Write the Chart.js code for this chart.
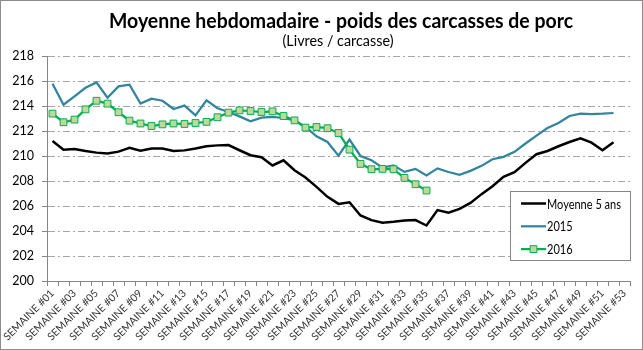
<!DOCTYPE html>
<html>
<head>
<meta charset="utf-8">
<script src="https://cdn.jsdelivr.net/npm/chart.js@4.4.0/dist/chart.umd.min.js"></script>
<style>
  html, body { margin: 0; padding: 0; background: #fff; }
  #wrap { position: relative; width: 643px; height: 350px; }
</style>
</head>
<body>
<div id="wrap"><canvas id="poidsChart"></canvas></div>
<script>
'use strict';

const chartTitle = 'Moyenne hebdomadaire - poids des carcasses de porc';
const chartSubtitle = '(Livres / carcasse)';

const semaines = [
  'SEMAINE #01', 'SEMAINE #02', 'SEMAINE #03', 'SEMAINE #04', 'SEMAINE #05', 'SEMAINE #06',
  'SEMAINE #07', 'SEMAINE #08', 'SEMAINE #09', 'SEMAINE #10', 'SEMAINE #11', 'SEMAINE #12',
  'SEMAINE #13', 'SEMAINE #14', 'SEMAINE #15', 'SEMAINE #16', 'SEMAINE #17', 'SEMAINE #18',
  'SEMAINE #19', 'SEMAINE #20', 'SEMAINE #21', 'SEMAINE #22', 'SEMAINE #23', 'SEMAINE #24',
  'SEMAINE #25', 'SEMAINE #26', 'SEMAINE #27', 'SEMAINE #28', 'SEMAINE #29', 'SEMAINE #30',
  'SEMAINE #31', 'SEMAINE #32', 'SEMAINE #33', 'SEMAINE #34', 'SEMAINE #35', 'SEMAINE #36',
  'SEMAINE #37', 'SEMAINE #38', 'SEMAINE #39', 'SEMAINE #40', 'SEMAINE #41', 'SEMAINE #42',
  'SEMAINE #43', 'SEMAINE #44', 'SEMAINE #45', 'SEMAINE #46', 'SEMAINE #47', 'SEMAINE #48',
  'SEMAINE #49', 'SEMAINE #50', 'SEMAINE #51', 'SEMAINE #52', 'SEMAINE #53'
];

const moyenne5Ans = [
  211.2, 210.5, 210.55, 210.4, 210.27, 210.2, 210.35, 210.65, 210.43, 210.6,
  210.6, 210.4, 210.45, 210.6, 210.78, 210.85, 210.88, 210.46, 210.06, 209.9,
  209.24, 209.66, 208.86, 208.28, 207.53, 206.73, 206.17, 206.3, 205.24, 204.87,
  204.66, 204.74, 204.84, 204.87, 204.44, 205.67, 205.46, 205.77, 206.25, 206.95,
  207.58, 208.33, 208.7, 209.45, 210.14, 210.4, 210.78, 211.12, 211.42, 211.07,
  210.46, 211.1
];

const poids2015 = [
  215.78, 214.1, 214.77, 215.46, 215.89, 214.66, 215.57, 215.7, 214.19, 214.59,
  214.42, 213.76, 214.03, 213.25, 214.45, 213.82, 213.52, 213.17, 212.77, 213.07,
  213.12, 213.04, 212.85, 212.32, 211.58, 211.12, 210.03, 211.31, 210.0, 209.66,
  209.07, 209.24, 208.73, 208.97, 208.45, 209.01, 208.72, 208.49, 208.81, 209.21,
  209.74, 209.93, 210.33, 211.0, 211.63, 212.24, 212.64, 213.2, 213.39, 213.36,
  213.39, 213.44
];

const poids2016 = [
  213.39, 212.7, 212.91, 213.73, 214.42, 214.19, 213.5, 212.83, 212.6, 212.4,
  212.53, 212.6, 212.56, 212.64, 212.73, 213.1, 213.47, 213.65, 213.6, 213.52,
  213.57, 213.2, 212.85, 212.27, 212.32, 212.22, 211.84, 210.51, 209.37, 208.94,
  208.97, 208.94, 208.25, 207.74, 207.24
];

const FONT = 'Lato, "Open Sans", sans-serif';
const AXIS_GREY = '#868686';

// Lato is wider than the Calibri of the original, squeeze text to its width
function fillSqueezed(ctx, text, x, y, width, align) {
  const w = ctx.measureText(text).width;
  const k = Math.min(1, width / w);
  ctx.save();
  ctx.translate(x, y);
  ctx.scale(k, 1);
  ctx.textAlign = align;
  ctx.fillText(text, 0, 0);
  ctx.restore();
  return k;
}

// white background + thin outer frame like the Excel chart
const framePlugin = {
  id: 'frame',
  beforeDraw(chart) {
    const ctx = chart.ctx;
    ctx.save();
    ctx.fillStyle = '#fff';
    ctx.fillRect(0, 0, chart.width, chart.height);
    ctx.restore();
  },
  afterDraw(chart) {
    const ctx = chart.ctx;
    ctx.save();
    ctx.strokeStyle = '#8c8c8c';
    ctx.lineWidth = 1;
    ctx.strokeRect(0.5, 0.5, chart.width - 1, chart.height - 1);
    ctx.restore();
  }
};

// title block
const titlePlugin = {
  id: 'titleBlock',
  afterDraw(chart) {
    const ctx = chart.ctx;
    ctx.save();
    ctx.fillStyle = '#000';
    ctx.textBaseline = 'alphabetic';
    ctx.font = 'bold 20px ' + FONT;
    fillSqueezed(ctx, chartTitle, 341, 27.5, 464, 'center');
    ctx.font = '14.5px ' + FONT;
    fillSqueezed(ctx, chartSubtitle, 338, 46, 111, 'center');
    ctx.restore();
  }
};

// boxed legend sitting inside the plot, bottom right
const legendBoxPlugin = {
  id: 'legendBox',
  afterDraw(chart) {
    const ctx = chart.ctx;
    const bx = 510.5, by = 191.5, bw = 120, bh = 69;
    ctx.save();
    ctx.fillStyle = '#fff';
    ctx.fillRect(bx, by, bw, bh);
    ctx.strokeStyle = AXIS_GREY;
    ctx.lineWidth = 1;
    ctx.strokeRect(bx, by, bw, bh);
    ctx.font = '12.5px ' + FONT;
    const k = Math.min(1, 74 / ctx.measureText('Moyenne 5 ans').width);
    chart.data.datasets.forEach((ds, i) => {
      const y = 203.5 + i * 22.8;
      ctx.strokeStyle = ds.borderColor;
      ctx.lineWidth = ds.borderWidth;
      ctx.beginPath();
      ctx.moveTo(521, y);
      ctx.lineTo(546, y);
      ctx.stroke();
      if (ds.pointRadius > 0) {
        ctx.fillStyle = ds.pointBackgroundColor;
        ctx.strokeStyle = ds.pointBorderColor;
        ctx.lineWidth = ds.pointBorderWidth;
        Chart.helpers.drawPoint(ctx, { pointStyle: ds.pointStyle, radius: ds.pointRadius, borderWidth: ds.pointBorderWidth }, 533.5, y);
      }
      ctx.fillStyle = '#000';
      ctx.textBaseline = 'middle';
      const w = ctx.measureText(ds.label).width * k;
      fillSqueezed(ctx, ds.label, 547, y + 1, w, 'left');
    });
    ctx.restore();
  }
};

new Chart(document.getElementById('poidsChart'), {
  type: 'line',
  data: {
    labels: semaines,
    datasets: [{
      label: 'Moyenne 5 ans',
      data: moyenne5Ans,
      borderColor: '#000000',
      borderWidth: 2.5,
      pointRadius: 0,
      order: 3
    }, {
      label: '2015',
      data: poids2015,
      borderColor: '#31859C',
      borderWidth: 2.25,
      pointRadius: 0,
      order: 2
    }, {
      label: '2016',
      data: poids2016,
      borderColor: '#00B050',
      borderWidth: 2.25,
      pointStyle: 'rect',
      pointRadius: 4.8,
      pointBackgroundColor: '#C3D69B',
      pointBorderColor: '#00B050',
      pointBorderWidth: 1,
      order: 1
    }]
  },
  options: {
    responsive: true, maintainAspectRatio: false,
    animation: false,
    layout: { padding: { top: 56, right: 13, bottom: 0, left: 0 } },
    plugins: {
      legend: { display: false },
      title: { display: false },
      tooltip: { enabled: false }
    },
    scales: {
      x: {
        offset: true,
        grid: { offset: true, drawOnChartArea: false, color: AXIS_GREY, tickLength: 5 },
        border: { color: AXIS_GREY },
        ticks: {
          autoSkip: false, maxRotation: 45, minRotation: 45, padding: 1,
          color: '#333', font: { family: FONT, size: 10.5 },
          callback: function (v, i) { return i % 2 === 0 ? this.getLabelForValue(v) : ''; }
        },
        afterFit(s) { s.height = 69; s.paddingLeft = 0; s.paddingRight = 0; }
      },
      y: {
        min: 200, max: 218,
        grid: { color: '#a6a6a6', tickColor: AXIS_GREY, tickLength: 5 },
        border: { color: AXIS_GREY, dash: [7, 3, 2, 3] },
        ticks: { stepSize: 2, padding: 8, color: '#000', font: { family: FONT, size: 12.5 } },
        afterFit(s) { s.width = 47; }
      }
    }
  },
  plugins: [framePlugin, titlePlugin, legendBoxPlugin]
});
</script>
</body>
</html>
